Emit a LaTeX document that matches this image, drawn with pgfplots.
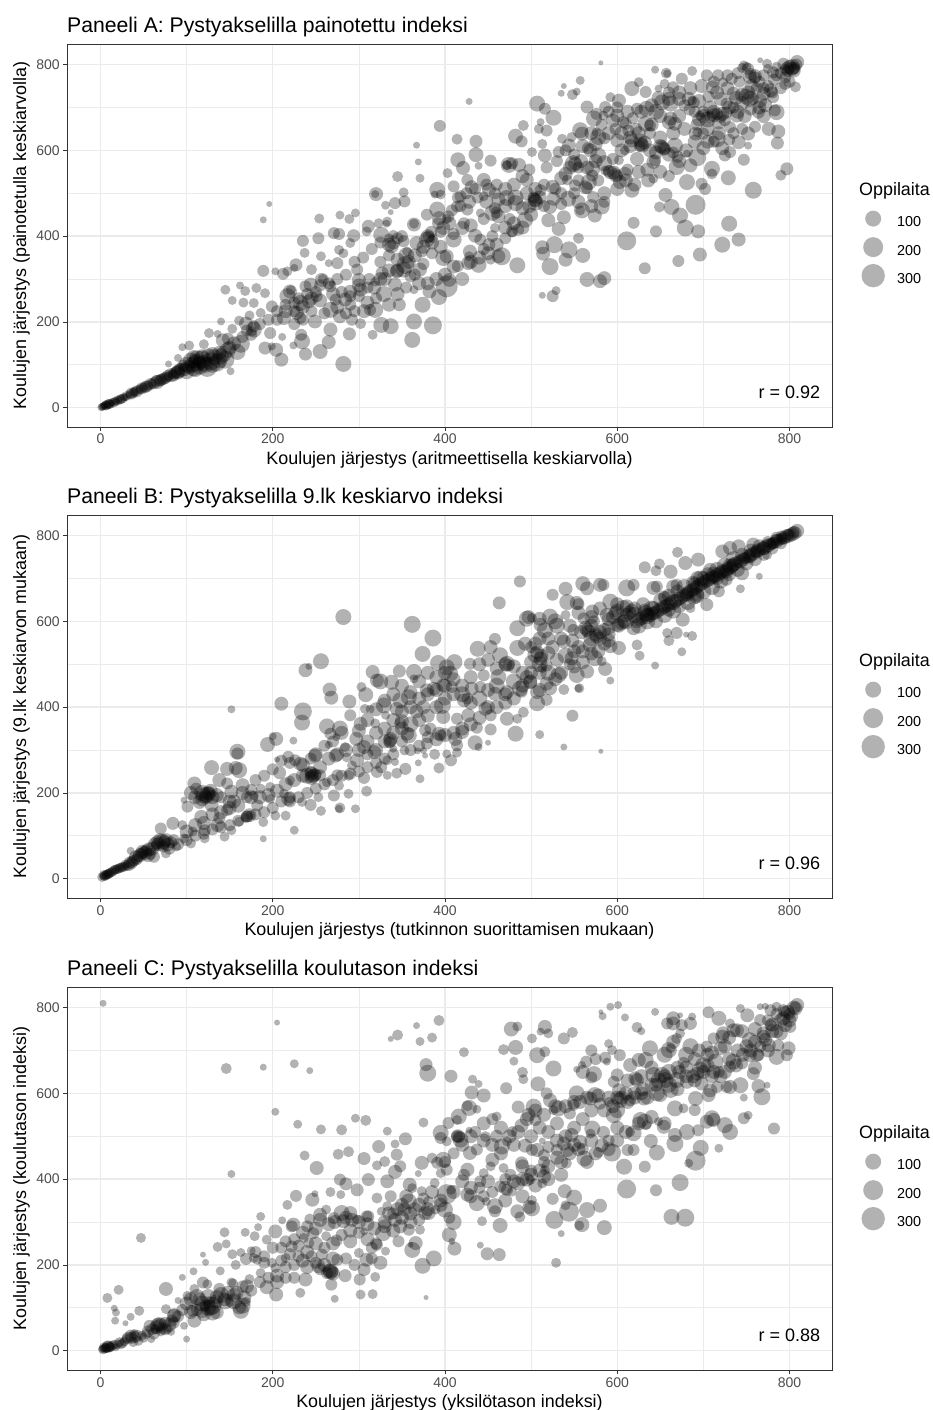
\documentclass[border=0pt]{standalone}
\usepackage{pgfplots}
\usepackage{pgfplotstable}
\usepackage{fontspec}
\setmainfont{Liberation Sans}
\pgfplotsset{compat=1.18}
\definecolor{gridg}{gray}{0.92}
\definecolor{axg}{gray}{0.2}
\definecolor{tickg}{gray}{0.3}
\pgfplotstableread[row sep=\\]{
x y r\\
2 2 4\\4 4 4\\6 5 5\\8 6 4\\10 8 5\\12 10 4\\15 12 5\\18 15 4\\21 18 4\\24 20 5\\27 24 4\\30 27 5\\33 30 4\\36 33 6\\39 37 5\\42 38 6\\45 42 5\\48 45 6\\52 48 6\\55 51 5\\58 55 6\\62 57 6\\66 60 7\\69 63 6\\72 66 6\\76 70 6\\79 73 5\\83 78 5\\86 80 6\\88 83 6\\3 3 4\\5 6 4\\9 9 5\\14 13 4\\20 17 5\\29 25 4\\38 34 5\\50 47 5\\60 56 5\\70 65 6\\
78 74 6\\74 68 6\\65 62 6\\54 50 6\\47 44 5\\41 38 5\\35 32 5\\26 22 5\\23 19 5\\17 14 5\\11 9 5\\7 6 5\\1 1 4\\82 76 7\\90 82 7\\85 75 6\\
100 100 8\\105 110 8\\108 118 7\\112 105 9\\115 98 9\\118 112 9\\120 104 8\\124 95 10\\128 108 9\\132 118 8\\135 105 9\\140 120 8\\145 112 9\\100 85 8\\108 92 8\\95 141 4\\103 145 5\\90 116 4\\79 102 3.5\\151 85 4\\120 148 5\\126 174 5\\140 201 4\\136 172 4\\142 157 7\\153 184 5\\159 130 8\\163 149 9\\148 161 6\\161 203 5\\173 215 5\\169 196 7\\
170 180 6\\165 165 6\\155 150 7\\150 140 7\\148 135 8\\143 125 8\\138 128 7\\130 125 7\\125 122 7\\118 120 7\\112 115 8\\107 100 8\\103 95 7\\98 90 7\\94 88 7\\90 84 7\\92 90 6\\96 98 6\\110 90 8\\122 100 8\\130 100 8\\138 110 8\\110 108 7\\115 105 7\\
145 275 5\\162 285 4\\168 272 5\\153 250 4.5\\166 245 5\\
394 657 6\\414 626 5.5\\436 621 6.5\\436 590 7.5\\453 576 6\\439 564 4\\415 578 7.5\\421 559 7\\367 612 3.5\\369 573 3.5\\371 535 4.5\\345 539 5.5\\428 714 3.5\\491 658 5.5\\482 633 7.5\\489 621 6\\474 566 8\\472 566 5\\478 570 6\\486 566 7\\
403 547 5\\410 516 6\\391 508 8\\388 497 4\\395 497 5\\426 531 6\\431 514 7\\445 531 7\\451 508 7\\460 520 6\\418 493 6\\414 469 6\\426 462 6\\445 493 5\\441 454 4.5\\462 485 7\\472 489 8\\482 477 8\\495 531 7\\478 411 6\\478 409 5\\458 419 5\\462 446 7\\455 454 8\\493 438 8\\
320 498 7\\319 498 4\\352 502 5\\353 481 6\\342 477 6\\331 472 4.5\\337 456 3\\296 454 4.5\\278 449 4.5\\289 440 5\\254 441 5\\196 475 3\\189 438 3.5\\271 407 6\\277 405 6\\253 395 6\\235 389 6\\237 361 5\\256 353 5\\189 319 6\\203 318 4\\212 312 6\\217 318 5\\227 333 6.5\\225 326 4\\245 322 5.5\\265 337 4\\275 337 6\\277 368 5\\282 360 5\\290 384 5\\294 401 6.5\\311 423 6.5\\309 411 5\\323 430 5\\333 434 5\\332 429 4\\326 403 8\\335 380 7\\338 376 7\\340 403 5\\352 388 6\\364 427 7\\364 429 5\\379 450 6\\391 462 8\\393 442 7\\404 446 6\\398 419 7\\379 392 8\\381 399 6\\373 364 6\\367 384 7\\356 364 5\\410 392 8\\420 419 7\\422 430 6\\435 401 7\\441 392 6\\451 380 6.5\\429 364 7\\428 353 5\\439 333 8\\453 345 5\\462 353 7\\466 353 9\\484 332 8\\402 353 7\\398 349 8\\410 329 7\\427 337 7\\
354 333 9\\352 322 8\\344 318 7\\360 306 6\\371 322 7\\342 287 7\\327 314 6.5\\319 294 5\\329 265 8\\364 275 4.5\\382 271 7\\402 283 11\\405 298 7\\393 258 8\\374 240 8\\347 240 6.5\\364 201 8\\386 192 9\\362 158 8\\337 190 8\\326 193 8\\316 170 5\\319 228 8\\313 228 6\\306 225 7\\292 205 6\\302 196 5.5\\289 172 6.5\\267 182 7\\265 153 7\\255 131 7.5\\282 102 8\\238 125 6.5\\234 155 8\\233 170 6\\224 145 4\\211 165 4\\191 139 6.5\\204 135 7\\199 143 4\\210 112 7\\197 174 6\\178 182 8\\
298 322 6\\300 298 7\\302 275 7\\284 252 7\\273 252 6\\267 283 6\\257 298 7\\258 300 5\\244 287 7\\238 283 6\\269 289 3.5\\220 271 7\\217 260 8\\221 274 5\\199 236 6\\186 221 5\\176 178 5\\178 190 6\\181 279 5\\191 267 5\\178 244 5\\242 248 7\\232 244 8\\228 221 7\\213 209 7\\232 209 6\\251 260 6\\267 228 8\\278 213 7\\249 201 7\\
380 400 7\\384 410 6\\386 395 5\\392 430 6\\402 440 5\\408 460 6\\415 490 6\\425 500 6\\435 510 6\\448 520 6\\458 500 6\\470 510 7\\480 520 7\\490 540 7\\498 555 6\\472 565 5\\340 385 7\\345 395 6\\350 400 6\\335 395 5\\325 385 6\\315 370 6\\305 350 6\\295 340 6\\285 310 6\\275 300 6\\265 290 6\\255 285 6\\250 270 6\\240 265 6\\230 255 6\\225 245 6\\215 240 6\\205 225 6\\330 300 7\\345 345 7\\358 340 7\\365 310 6\\375 335 6\\385 360 6\\395 375 7\\410 405 6\\430 425 7\\445 440 6\\460 455 6\\475 440 6\\490 465 7\\445 370 6\\455 400 6\\470 395 6\\485 415 6\\325 340 6\\335 355 6\\312 300 6\\300 260 6\\290 240 6\\275 235 7\\260 220 6\\245 225 6\\235 205 6\\225 195 6\\290 260 6\\
581 804 2.5\\557 763 4.5\\538 750 3\\535 733 3.5\\548 730 5.5\\553 737 4\\644 788 4\\657 780 5.5\\658 779 4\\687 785 5\\675 767 6\\665 747 6\\648 744 4\\625 759 5\\617 744 7.5\\633 736 6\\704 775 6\\717 775 6\\733 767 6\\723 759 5\\711 747 7\\747 798 5\\752 790 6\\760 773 7\\754 771 7\\774 802 5\\766 810 3\\793 802 6\\803 794 8\\809 806 7\\797 790 7\\805 786 7\\781 782 6\\807 748 5.5\\795 755 6\\778 740 7\\770 732 7\\754 720 8\\766 716 7\\781 724 6\\785 689 8\\783 693 6\\764 689 6.5\\776 650 7\\787 644 7\\786 617 6.5\\
735 732 7\\727 709 6\\716 685 6\\708 678 6\\696 681 5\\720 678 6\\739 681 7\\731 654 6\\716 627 8.5\\691 639 7\\693 642 5\\700 639 6\\752 639 7\\741 619 7\\752 611 4\\731 596 6\\725 588 6\\747 578 6\\693 584 9\\681 592 4\\710 557 8\\710 545 5.5\\729 536 7.5\\702 510 6\\698 522 6\\681 526 8\\758 507 8.5\\797 557 6.5\\790 542 5.5\\
691 473 10\\656 496 7\\649 468 5.5\\663 468 8\\673 448 8\\679 419 8.5\\694 411 7\\730 429 8\\741 392 7\\722 380 8\\696 357 7\\671 342 6\\632 325 6\\619 431 6\\645 411 6\\611 389 9.5\\565 299 7.5\\580 295 7\\585 302 7\\522 329 8.5\\514 359 7\\513 374 7\\527 380 8.5\\544 368 8.5\\540 345 7\\560 355 7.5\\555 395 5.5\\532 417 7\\513 262 3.5\\525 260 6\\529 273 4.5\\
520 437 7\\538 444 7\\522 468 7\\526 487 7\\543 487 8\\559 460 8\\557 460 5\\574 448 7\\582 469 8\\572 491 6\\563 514 7\\551 518 6\\567 526 8\\571 541 6\\542 531 5.5\\505 483 7\\504 485 7\\503 490 6\\511 507 6\\592 549 7\\598 542 7\\609 545 7\\617 507 7.5\\603 526 7\\586 553 5\\602 577 5\\623 580 7\\629 611 7\\627 623 7\\642 573 7\\636 530 7\\642 534 5\\654 604 7\\652 608 7\\669 561 8\\667 611 8\\644 577 6\\617 623 7\\600 623 7\\613 646 6\\609 600 5\\
592 724 5\\602 716 7\\586 701 6\\565 701 6.5\\573 674 8\\584 681 5\\600 681 7\\607 666 6\\623 697 6\\634 697 8\\633 662 8\\638 658 6\\652 712 8\\662 709 8\\662 674 7\\667 662 7\\683 720 7\\689 712 6\\687 716 5\\578 631 8\\576 642 5\\559 639 7\\557 647 8\\547 631 5\\544 611 7\\536 627 5\\532 596 6\\516 588 7\\549 569 8.5\\551 569 7\\569 600 7\\578 588 8\\571 557 8\\526 676 8\\516 697 6\\507 709 8\\511 666 4\\518 646 6\\509 650 5\\513 615 5\\501 596 5\\
803 790 7\\800 795 7\\806 792 6\\798 785 6\\795 790 5\\790 780 6\\808 800 6\\785 775 6\\770 745 6\\775 750 6\\780 735 6\\760 770 6\\755 778 6\\765 760 6\\750 795 5\\745 792 5\\740 780 6\\775 790 5\\785 795 5\\728 745 7\\716 735 7\\708 700 7\\700 690 6\\712 682 7\\722 685 7\\727 688 6\\735 700 6\\745 710 7\\752 735 7\\690 690 6\\678 705 6\\672 720 7\\660 735 6\\655 755 5\\648 722 7\\640 705 7\\628 690 7\\618 675 6\\610 662 6\\598 650 6\\590 640 7\\585 628 6\\575 615 7\\566 605 6\\558 575 7\\550 590 6\\540 600 6\\530 575 6\\518 560 6\\628 615 7\\632 618 7\\626 610 6\\650 610 7\\655 603 6\\660 590 7\\670 585 6\\680 600 7\\672 575 7\\685 565 7\\700 605 7\\712 620 6\\722 605 7\\735 640 6\\725 670 6\\705 650 7\\692 660 6\\678 650 7\\665 640 7\\650 630 7\\638 640 6\\622 650 6\\612 690 7\\600 700 6\\590 690 6\\576 685 6\\596 548 7\\590 552 6\\600 540 6\\612 555 6\\578 530 6\\565 512 6\\550 500 6\\535 475 6\\505 478 8\\510 490 7\\498 470 7\\515 470 6\\528 510 6\\540 545 7\\555 530 6\\585 500 7\\
700 680 7\\705 672 8\\712 690 7\\718 665 7\\695 672 7\\740 690 7\\748 680 7\\755 695 6\\765 700 7\\772 705 7\\758 720 6\\745 730 7\\738 722 7\\750 725 8\\762 745 6\\790 745 6\\800 760 6\\770 775 6\\782 765 6\\795 770 6\\756 750 7\\742 760 6\\728 775 6\\712 760 6\\698 750 7\\685 745 7\\672 735 7\\660 720 7\\645 690 8\\650 680 7\\660 665 7\\672 680 7\\684 695 6\\695 715 7\\706 725 6\\720 720 7\\730 700 7\\640 660 7\\625 640 7\\615 610 7\\605 600 7\\595 580 6\\585 570 8\\575 575 7\\565 560 7\\555 560 6\\545 560 7\\535 535 7\\525 515 7\\515 520 6\\505 510 7\\495 500 7\\482 490 8\\470 470 7\\458 465 6\\448 480 7\\438 490 6\\428 480 7\\418 470 6\\405 430 7\\395 410 6\\385 385 7\\375 375 7\\365 355 7\\355 355 8\\345 320 7\\335 320 7\\325 300 7\\318 280 7\\310 280 6\\300 285 7\\290 270 7\\280 270 6\\270 265 7\\255 250 7\\245 255 7\\235 235 7\\225 225 6\\215 225 7\\205 205 6\\195 205 6\\185 195 6\\175 170 6\\
500 450 7\\490 420 7\\480 430 7\\470 420 7\\460 380 7\\450 360 7\\440 350 7\\430 340 7\\420 300 7\\415 330 6\\400 310 7\\390 300 7\\380 290 7\\370 290 7\\355 280 6\\345 265 7\\335 240 7\\320 255 6\\310 245 7\\295 225 6\\285 220 6\\560 610 7\\570 640 7\\582 660 6\\595 670 7\\605 640 7\\615 630 7\\638 600 7\\645 595 7\\665 595 6\\690 620 7\\705 620 7\\718 640 7\\730 625 6\\745 650 6\\760 655 6\\770 680 7\\620 520 7\\610 530 7\\625 550 7\\635 555 7\\650 550 7\\660 540 6\\570 470 7\\585 480 6\\600 510 7\\555 480 7\\535 500 6\\
}\tableA
\pgfplotstableread[row sep=\\]{
x y r\\
4 9 5\\10 12 5\\16 20 5\\22 24 5\\28 28 5\\33 32 6\\39 43 6\\49 63 7\\55 55 7\\62 51 6\\72 86 8\\76 90 7\\70 117 6\\84 129 6.5\\35 65 4\\64 78 5\\76 59 5\\88 75 5\\97 94 5\\105 82 5\\95 125 5\\107 110 5\\121 113 6\\121 94 5\\136 125 7\\144 98 5\\152 113 5\\161 133 5\\173 148 7\\170 145 6\\168 142 5\\3 5 4\\6 8 5\\8 10 5\\13 15 5\\19 22 5\\25 26 5\\31 30 5\\36 36 6\\42 45 6\\46 55 7\\52 60 7\\58 58 6\\67 80 7\\74 85 7\\
2 4 5\\5 6 5\\7 9 5\\9 11 5\\11 14 5\\14 17 5\\17 21 5\\20 23 5\\23 26 5\\26 28 5\\29 33 5\\34 38 6\\37 40 6\\41 50 7\\44 52 6\\47 58 6\\50 62 6\\53 66 6\\56 68 7\\60 70 7\\63 80 7\\66 85 7\\69 90 7\\73 75 6\\78 80 7\\82 85 6\\85 90 6\\
124 195 8\\122 190 7\\126 198 7\\109 222 7\\111 210 6\\101 168 6\\97 183 3.5\\115 179 7\\129 172 7\\138 230 7\\129 259 7.5\\147 256 7\\159 296 8\\159 292 6\\161 253 8\\157 258 7\\147 222 6\\165 218 7\\152 203 7\\147 160 6\\117 144 7\\138 141 6\\175 207 6\\152 395 4\\
282 610 8\\487 693 6\\463 643 6.5\\362 593 8.5\\386 561 8.5\\374 524 8\\256 507 8\\238 486 7\\242 495 3.5\\210 408 7\\235 390 9\\234 364 8\\266 441 7\\268 422 7\\289 413 7\\303 447 5\\308 429 7.5\\316 482 7\\321 462 7\\325 460 8\\338 458 7.5\\347 484 6.5\\364 482 8\\364 466 4.5\\429 501 6\\411 505 8\\392 503 8\\402 493 8\\406 478 8\\438 536 8\\458 559 6\\453 540 7\\464 521 8\\472 501 8\\474 498 6\\484 538 8\\493 548 7\\505 548 7\\462 470 8\\445 474 6\\441 447 6\\458 431 7\\472 435 7\\487 443 8\\489 436 6\\507 435 7\\499 458 7\\511 513 7\\507 528 7\\518 497 6\\484 584 8\\495 606 8\\497 610 7\\510 606 7\\516 579 8\\
387 443 7\\379 439 7\\398 451 7\\408 447 6\\431 443 7\\422 416 7\\426 420 6\\397 404 8.5\\375 400 7\\367 390 7\\358 423 8\\348 416 8\\344 396 7\\329 404 8\\331 381 4.5\\350 367 7\\348 362 6\\358 334 8\\356 338 7\\337 326 7\\336 318 6\\377 346 6\\383 350 6\\393 338 7\\395 334 6\\398 377 7\\414 373 6\\427 381 7\\447 396 7\\453 381 6\\472 373 7\\484 373 5\\491 388 5.5\\482 338 8\\453 348 6\\437 352 6\\420 342 7\\412 326 7\\414 311 6\\435 317 7.5\\439 307 4\\450 317 3\\
379 315 6\\388 290 5.5\\402 291 4.5\\407 276 6\\414 294 5\\393 258 5.5\\371 233 4.5\\369 270 3.5\\377 287 3\\368 298 3.5\\375 299 3.5\\353 299 5\\354 256 6\\344 246 5.5\\333 241 4.5\\342 272 4\\326 260 6\\321 249 6\\333 276 5\\318 295 7\\306 235 6\\309 204 5.5\\340 303 4\\336 322 7\\306 307 7\\297 326 7\\284 307 5\\302 361 7\\290 381 6\\313 395 4.5\\319 362 5\\307 396 5\\278 350 8\\263 355 8\\274 330 4\\267 338 6\\265 312 4\\273 287 7\\286 283 5\\298 276 7\\292 264 5\\288 241 5.5\\275 241 6\\277 217 5\\288 198 5\\271 194 6\\
249 287 7\\244 280 6\\232 268 7\\226 276 6\\218 284 6\\205 278 3\\208 247 6.5\\220 229 5\\248 241 7\\246 239 7\\250 243 6\\255 241 6\\244 249 6\\263 225 5\\224 322 4\\204 326 7\\194 313 7.5\\200 332 4\\253 190 5\\244 172 6\\234 179 5\\218 186 7\\220 180 6\\213 198 5\\197 214 5\\278 165 5.5\\277 163 4\\296 163 4.5\\256 158 5\\225 113 4.5\\189 93 3.5\\189 132 5\\203 147 5\\215 147 5\\174 148 5\\182 171 6\\186 210 5\\178 194 5\\197 186 5\\
581 297 2.5\\538 307 3.5\\510 336 4.5\\548 380 6\\592 462 4\\644 497 4\\675 529 4.5\\626 520 5\\623 545 5.5\\687 566 5\\680 569 3\\660 555 5.5\\669 573 6\\658 573 5\\676 604 7\\743 676 4.5\\765 705 3.5\\632 726 6\\645 718 5.5\\649 734 5.5\\670 761 5.5\\662 716 7\\679 736 7\\694 744 7\\722 763 7\\731 771 7\\741 775 7\\758 779 7\\
525 662 6\\540 676 7\\560 688 7.5\\565 677 7\\580 685 7\\584 685 6\\611 678 8.5\\619 685 6\\592 646 8\\542 645 8\\553 643 7\\555 640 6\\522 611 8\\528 600 8\\511 592 7\\501 608 5\\540 615 5\\571 623 7\\561 607 6\\573 600 6\\
549 580 6\\565 580 7\\567 576 7\\576 565 7\\588 615 7\\607 631 8\\611 635 7\\600 592 7\\619 584 7\\633 619 8\\635 615 7\\642 678 7\\646 681 6\\656 654 7\\654 658 6\\665 681 7\\669 685 6\\660 627 7\\642 631 7\\689 658 8\\693 662 7\\681 662 7\\704 639 6.5\\685 631 5\\718 670 6\\700 701 7\\712 709 8\\716 701 7\\708 720 7\\731 728 8\\735 732 7\\727 716 7\\745 712 7\\727 697 6\\693 701 7\\689 689 6\\754 751 7\\762 763 7\\770 771 7\\778 779 6\\785 790 6\\791 798 6\\799 802 6\\805 808 6\\809 811 7\\793 794 6\\781 782 6\\774 755 5\\747 747 6\\
602 538 7\\592 542 7\\586 489 7\\582 507 5\\574 514 8\\565 483 7\\553 475 8\\555 444 4\\556 444 5\\538 441 5.5\\532 475 8\\522 444 7\\518 417 6\\507 409 8\\547 514 7\\538 553 7\\520 526 7\\505 522 8\\513 491 5\\499 460 7\\
806 806 7\\803 803 7\\800 800 7\\797 799 7\\794 795 7\\791 792 6\\788 790 6\\785 787 7\\782 783 6\\779 781 6\\776 778 7\\773 775 7\\770 770 7\\767 768 6\\764 766 7\\761 762 6\\758 758 7\\755 755 7\\752 752 7\\749 748 6\\746 744 7\\743 740 7\\740 738 6\\737 735 7\\734 730 7\\731 725 7\\728 722 7\\725 718 7\\722 716 7\\719 712 7\\716 708 7\\713 704 7\\710 702 7\\707 698 7\\704 695 7\\701 692 7\\698 688 7\\695 684 7\\692 680 7\\689 675 7\\686 672 7\\683 668 7\\680 664 7\\677 660 7\\674 655 7\\671 652 7\\668 648 7\\665 645 8\\662 642 7\\659 638 7\\656 635 7\\653 632 7\\650 628 7\\647 624 7\\644 620 7\\641 618 7\\638 615 7\\635 612 8\\632 625 7\\629 608 7\\626 605 7\\623 600 7\\620 630 7\\617 625 7\\614 620 7\\611 615 7\\608 600 7\\605 596 7\\602 590 7\\598 620 7\\595 610 7\\590 585 7\\585 580 7\\580 575 7\\575 570 7\\570 590 7\\563 585 7\\558 575 7\\
590 555 7\\585 548 7\\578 530 7\\570 525 7\\560 505 7\\550 495 7\\545 500 6\\535 480 7\\528 465 7\\518 455 7\\510 440 7\\512 520 7\\525 540 7\\535 560 7\\548 555 7\\555 540 7\\568 545 7\\510 560 7\\500 540 6\\495 470 7\\480 420 7\\470 410 7\\460 400 7\\450 400 7\\440 375 7\\430 360 7\\420 350 7\\410 340 7\\400 335 7\\390 325 7\\380 330 6\\370 310 6\\360 300 6\\350 320 6\\340 290 6\\330 280 6\\320 270 6\\310 260 6\\300 250 6\\290 245 6\\280 240 6\\270 230 6\\260 220 6\\250 210 6\\240 200 6\\230 190 6\\220 190 6\\210 180 6\\200 165 6\\190 155 6\\180 150 6\\170 145 6\\160 135 6\\150 125 6\\140 120 6\\130 115 6\\120 105 6\\110 100 6\\100 90 6\\90 80 6\\80 70 6\\
110 190 7\\118 200 8\\128 205 7\\135 195 7\\105 200 7\\140 190 6\\150 180 7\\160 170 7\\170 190 6\\180 230 6\\190 240 6\\200 255 6\\210 275 6\\220 270 6\\235 265 7\\250 290 7\\260 310 6\\270 320 6\\280 340 7\\300 345 7\\310 370 7\\320 395 7\\330 415 7\\340 430 7\\350 450 7\\360 435 7\\370 460 7\\380 480 7\\390 470 7\\400 480 7\\410 465 7\\420 450 7\\430 470 7\\440 500 7\\450 510 7\\460 490 7\\470 500 7\\480 495 7\\490 480 7\\500 505 7\\510 480 7\\
600 640 7\\610 600 8\\620 615 8\\625 590 8\\630 640 7\\635 600 8\\640 630 8\\645 600 7\\650 650 7\\655 615 8\\660 660 7\\665 625 8\\670 670 7\\672 635 7\\678 680 8\\682 645 8\\688 690 7\\692 660 8\\697 700 8\\700 670 8\\705 710 7\\710 680 8\\716 720 8\\720 695 8\\725 730 8\\730 710 7\\735 745 8\\740 720 7\\745 755 7\\750 735 7\\755 765 7\\760 745 7\\765 775 7\\770 755 6\\775 785 6\\780 770 6\\785 795 6\\790 782 6\\
440 420 8\\450 440 7\\460 450 8\\470 430 7\\480 460 8\\490 450 7\\500 480 7\\510 500 8\\520 480 8\\530 510 7\\540 520 8\\550 530 7\\560 530 7\\570 560 8\\580 560 7\\590 570 7\\520 560 7\\530 590 8\\545 590 7\\555 620 7\\570 610 7\\580 630 7\\590 605 7\\600 625 7\\300 300 7\\310 290 6\\320 300 7\\330 320 7\\340 340 7\\350 350 7\\360 360 8\\370 370 7\\380 380 7\\390 400 7\\400 420 7\\410 430 7\\420 430 8\\430 410 7\\340 370 7\\350 390 7\\360 400 7\\370 420 7\\380 430 7\\390 440 7\\400 450 7\\330 350 7\\320 340 7\\310 320 7\\100 110 7\\110 125 7\\120 130 7\\130 150 7\\140 155 7\\150 165 7\\155 180 7\\165 200 7\\175 190 7\\185 190 7\\195 195 7\\205 205 7\\215 220 7\\225 230 7\\235 240 7\\245 235 7\\255 260 7\\265 280 7\\275 290 7\\285 300 7\\240 240 8\\245 245 7\\120 195 8\\125 200 7\\118 185 7\\130 190 7\\
}\tableB
\pgfplotstableread[row sep=\\]{
x y r\\
3 810 3.5\\146 658 5.5\\47 263 5\\21 142 5\\8 123 5\\16 99 3.5\\18 89 4\\17 70 4\\29 64 3\\35 79 4\\45 93 5\\100 27 3.5\\76 144 7\\90 117 3.5\\95 171 3.5\\108 185 4\\119 224 3\\122 206 3.5\\136 242 5\\139 186 4.5\\146 249 4.5\\144 276 5\\152 412 4\\
2 4 4\\9 10 6\\8 9 6\\4 8 5\\12 8 5\\18 8 4\\26 18 5\\35 35 6\\39 39 5\\44 23 5\\53 39 5\\59 27 4\\57 58 6\\68 62 7\\66 60 7\\64 50 5\\78 50 5\\86 83 7\\85 81 7\\82 44 4\\97 58 4\\76 97 5\\109 70 7\\107 93 6\\109 144 5\\115 120 7\\119 159 6\\124 155 5\\130 105 9\\130 89 8\\126 113 6\\122 105 6\\138 144 6\\152 159 5\\154 157 5\\144 120 7\\150 113 5\\161 101 7\\163 93 8\\167 124 7\\169 114 5\\101 128 5\\
5 5 5\\6 6 5\\10 8 5\\11 10 5\\14 12 5\\20 15 5\\22 20 5\\28 22 5\\32 30 6\\36 30 6\\40 32 6\\42 35 6\\48 35 5\\55 45 6\\60 50 6\\65 55 7\\70 60 7\\72 52 6\\75 65 6\\80 60 7\\83 70 6\\90 80 6\\100 110 7\\105 120 7\\112 125 8\\118 110 8\\125 125 8\\128 100 8\\134 115 7\\140 130 8\\148 135 7\\155 115 8\\158 135 7\\170 150 7\\165 105 8\\120 85 7\\112 95 6\\135 90 7\\
153 225 5\\163 229 4.5\\175 233 4.5\\169 214 6\\157 200 5\\173 167 5\\168 276 4.5\\
205 765 3\\189 661 3.5\\225 669 4.5\\243 653 3.5\\203 557 4\\229 528 4.5\\256 516 5\\280 515 5.5\\296 542 4.5\\308 537 5.5\\333 512 4.5\\237 455 5\\276 458 5.5\\288 464 5.5\\251 426 7\\306 448 6.5\\323 476 6.5\\342 482 4.5\\354 494 6.5\\344 457 6\\330 441 5.5\\321 432 5\\348 430 6\\342 417 7\\311 399 6.5\\278 399 6\\285 389 6.5\\298 375 6.5\\267 370 5\\249 366 3.5\\246 352 7\\227 361 6\\217 340 5\\279 364 4.5\\186 313 4.5\\211 304 4\\183 288 4\\179 267 5\\
393 770 5.5\\367 758 3.5\\345 736 5.5\\337 727 3\\371 721 4.5\\385 730 5\\422 696 5\\468 702 5.5\\482 707 7.5\\477 750 7.5\\484 756 5\\480 675 4.5\\490 649 5.5\\491 633 5\\471 612 6\\378 667 6.5\\380 647 8.5\\407 640 6.5\\432 633 4.5\\439 622 4\\431 602 7\\445 595 7\\426 571 5.5\\437 563 4.5\\428 566 8\\416 546 8\\414 538 5\\460 546 5\\375 532 5\\485 568 6.5\\497 550 7\\489 525 7\\
395 508 8\\404 531 6\\395 496 6\\402 488 5\\415 500 7\\414 500 6\\416 499 6\\418 492 8\\428 514 3.5\\447 499 5.5\\460 500 6.5\\478 511 5.5\\466 476 8\\472 488 5\\437 469 6\\429 461 7\\493 478 7\\373 438 7\\398 445 8\\385 449 5.5\\391 438 6\\402 422 6\\369 413 3.5\\388 391 5\\395 414 5\\422 410 6\\426 422 7\\455 445 7\\453 430 5\\445 414 5\\441 395 6\\468 426 5\\476 410 6\\464 383 6\\472 375 6\\478 371 5\\489 438 6.5\\495 399 7\\
359 387 7\\362 379 5\\373 372 5\\381 348 5.5\\402 365 10\\407 375 5\\426 364 7\\437 344 8\\448 348 4.5\\458 337 8\\458 325 6\\484 325 7\\498 335 7\\487 312 5.5\\464 292 7.5\\443 302 5\\400 329 8\\410 300 8\\405 270 7.5\\408 255 3.5\\411 238 7\\441 246 3.5\\449 226 6.5\\463 224 6.5\\
358 348 8\\353 329 7\\381 321 7\\377 321 7\\389 329 5\\342 305 7\\348 290 7\\358 282 6\\371 282 5\\346 255 6\\362 235 8\\360 247 3\\366 251 7\\387 215 8\\374 198 8\\333 395 7\\337 360 6\\321 356 5.5\\333 337 5\\326 325 4.5\\311 313 6\\309 313 6\\298 306 5\\290 321 7\\280 321 8\\282 302 7\\271 309 6\\262 329 5\\255 317 7\\243 307 5.5\\247 274 6\\224 294 7\\222 290 6\\203 278 7\\193 259 5\\222 243 6\\215 216 5\\230 220 6\\242 251 5.5\\236 263 5\\262 267 5\\274 257 6\\290 255 7\\306 278 4\\328 274 8\\321 247 6\\331 232 4.5\\315 240 6\\300 228 5\\309 212 7\\306 189 6.5\\319 172 5\\301 166 6\\284 175 6.5\\275 212 6\\267 185 8\\266 186 7\\268 184 7\\263 181 6\\253 197 7\\257 224 6\\238 166 7\\268 154 6\\232 135 5\\215 170 6\\199 205 5\\203 193 5\\186 181 5\\193 148 7\\204 131 7\\302 131 5\\316 132 5\\272 121 4\\378 124 2.5\\178 216 5\\182 212 5\\
190 220 6\\200 240 6\\210 240 6\\215 255 6\\225 260 6\\235 275 7\\240 290 6\\250 285 7\\255 305 7\\265 295 7\\272 300 7\\285 310 7\\292 305 7\\300 300 7\\310 295 7\\318 285 7\\330 300 7\\340 280 7\\350 310 7\\360 300 7\\370 305 6\\380 330 7\\395 340 7\\405 310 6\\190 205 6\\180 230 6\\205 175 7\\225 170 6\\240 195 7\\255 190 6\\270 215 7\\285 215 6\\295 200 6\\315 215 6\\325 205 7\\
400 440 6\\410 460 6\\420 480 7\\430 500 7\\445 490 7\\455 480 7\\465 460 7\\480 480 7\\490 430 7\\500 500 7\\510 520 7\\520 510 7\\530 490 7\\540 500 7\\550 520 7\\560 540 7\\570 560 7\\585 560 7\\595 570 7\\605 590 7\\610 600 7\\620 600 7\\630 610 7\\640 620 7\\648 630 8\\660 620 8\\670 610 7\\680 640 7\\690 630 7\\700 650 7\\710 640 7\\720 640 7\\730 680 7\\740 700 7\\750 710 7\\760 720 7\\770 740 7\\780 760 7\\790 770 7\\798 790 7\\805 800 7\\800 785 6\\793 775 7\\785 745 7\\775 700 7\\760 660 7\\745 670 6\\725 710 7\\710 695 7\\690 680 7\\672 650 7\\430 360 7\\440 380 6\\450 395 7\\470 400 6\\485 390 7\\500 420 6\\515 440 6\\530 450 7\\550 480 7\\570 490 7\\590 490 6\\610 510 7\\625 530 7\\640 545 7\\655 530 7\\600 520 7\\560 470 6\\490 360 7\\470 350 7\\
592 802 4\\601 806 4\\581 790 2.5\\583 780 4\\609 777 4\\644 790 4\\623 754 5.5\\628 745 4\\516 755 7\\520 740 5\\511 744 4\\548 742 5.5\\538 728 6\\501 728 5\\507 689 8\\516 697 5.5\\526 658 8\\508 622 7.5\\590 716 4.5\\594 701 5\\603 689 6\\586 683 6\\588 674 4\\564 674 6\\559 666 4\\553 656 3.5\\573 645 8\\570 637 6\\600 643 6.5\\596 627 6\\615 666 7\\625 678 7\\633 678 8\\638 705 8\\660 701 8\\662 705 5\\665 763 7\\658 763 6\\675 759 6\\673 740 5\\685 763 6.5\\687 779 4\\673 782 3\\665 775 7\\669 728 5.5\\677 671 6\\685 710 8\\
706 789 6\\718 775 7.5\\731 763 5\\723 740 7\\722 732 7\\739 747 7\\743 798 4.5\\751 782 7\\766 802 3.5\\772 803 3.5\\766 771 6\\778 794 6\\785 802 5\\793 794 6\\809 806 7\\807 798 7\\803 779 6\\795 759 7\\801 755 6\\778 759 6\\770 732 7\\754 724 8\\766 709 6\\776 712 7\\787 712 6\\799 705 7\\785 685 8\\797 689 6\\754 689 7\\764 689 6\\735 747 7\\712 728 6\\704 709 6\\758 646 6.5\\774 619 3.5\\764 617 7\\768 592 8.5\\747 590 4\\743 619 8\\731 615 7\\727 615 6\\716 615 6\\735 674 8\\731 662 6\\718 650 6\\714 674 8\\700 666 8\\693 646 7\\698 623 7\\708 607 7\\706 596 7\\691 588 7.5\\681 627 7\\669 631 8\\
652 643 8\\642 643 8\\656 631 8\\623 631 7\\621 635 7\\602 607 7\\603 584 8\\600 561 8\\596 549 8\\574 596 8\\569 588 7\\553 600 8\\557 580 7\\545 553 6\\532 565 8\\522 584 7\\526 561 5\\518 600 6\\503 569 8\\505 538 6\\530 530 7\\549 573 6\\580 576 6\\590 580 5\\615 584 6\\631 588 7\\650 596 7\\646 600 8\\662 608 8\\667 565 8\\677 565 5\\690 561 6\\
632 534 8\\627 538 8\\634 526 5\\648 534 4.5\\654 522 7\\619 507 8\\615 510 5\\639 489 7\\667 503 7\\667 483 8.5\\681 510 8\\694 514 6\\704 534 7\\710 542 8\\712 538 7\\725 526 8\\731 510 8\\747 542 6\\752 549 4.5\\782 518 6\\571 518 8\\569 506 5\\584 509 6.5\\547 503 7\\557 487 7\\538 483 7\\542 468 7\\530 468 6\\520 475 6\\507 468 7\\501 468 6\\513 489 3.5\\515 456 6\\
582 479 7\\594 462 9\\578 462 5.5\\562 448 8\\541 437 5.5\\608 429 8\\612 468 6\\619 468 6\\632 429 6\\646 462 8\\697 473 8\\718 472 4.5\\691 443 10\\683 437 4.5\\673 392 8.5\\645 374 6\\611 377 9.5\\515 406 7\\513 390 5\\516 421 5\\499 398 5\\539 372 7\\550 357 8\\544 324 10\\540 339 5\\525 354 6\\565 328 8\\580 338 7\\527 305 9\\559 294 7.5\\556 292 5\\585 287 7.5\\535 273 3.5\\529 205 5\\663 312 8\\679 310 9\\501 351 5\\501 332 8\\
620 590 7\\628 600 7\\635 590 7\\612 580 7\\645 620 7\\655 640 7\\660 650 8\\670 660 7\\680 660 7\\688 640 7\\696 655 8\\705 665 7\\712 650 7\\725 650 7\\738 665 7\\746 690 7\\755 700 7\\762 690 7\\772 725 7\\780 745 7\\790 740 7\\800 770 7\\795 790 6\\785 785 6\\775 770 6\\760 750 7\\745 745 7\\730 730 7\\720 705 7\\705 690 7\\695 700 7\\680 690 8\\665 720 7\\655 690 8\\640 660 7\\628 640 7\\612 630 7\\600 590 7\\590 590 7\\578 595 7\\565 590 7\\550 580 7\\540 570 7\\528 570 7\\515 550 7\\505 560 7\\495 540 7\\485 510 7\\475 500 7\\465 520 7\\455 540 6\\445 530 7\\435 510 6\\500 410 7\\490 400 7\\480 395 7\\510 420 7\\520 430 7\\535 440 7\\545 460 7\\555 470 7\\565 440 7\\575 460 7\\590 470 7\\600 490 7\\505 385 7\\520 400 7\\535 410 7\\470 380 7\\455 370 6\\445 360 6\\430 380 7\\420 395 7\\410 370 7\\395 350 7\\385 370 7\\375 355 6\\365 330 7\\355 360 7\\345 330 7\\335 320 7\\
260 200 7\\270 180 7\\250 205 6\\245 220 6\\235 210 7\\225 200 6\\215 195 6\\205 160 7\\195 170 6\\185 160 6\\175 140 6\\165 150 6\\155 130 7\\145 115 8\\135 125 7\\125 100 8\\118 95 8\\105 90 7\\95 95 6\\85 65 6\\75 50 6\\70 45 5\\62 40 6\\50 30 5\\38 20 5\\30 28 5\\24 15 5\\16 14 5\\7 7 5\\3 3 5\\290 280 7\\300 275 6\\310 260 7\\320 250 6\\330 290 7\\340 320 6\\350 340 7\\360 320 7\\370 340 7\\280 270 6\\270 250 7\\260 240 6\\250 250 7\\240 230 7\\230 245 6\\220 225 6\\210 210 6\\570 700 6\\560 650 7\\575 680 6\\
}\tableC
\pgfplotsset{
  panel/.style={
    scale only axis, width=765pt, height=383pt, clip=false,
    xmin=-38.9, xmax=849.4, ymin=-45, ymax=848,
    xtick={0,200,400,600,800}, ytick={0,200,400,600,800},
    minor xtick={100,300,500,700}, minor ytick={100,300,500,700},
    grid=both,
    major grid style={gridg, line width=1.4pt},
    minor grid style={gridg, line width=0.7pt},
    tick align=outside, tick pos=left,
    major tick length=3.7pt, minor tick length=0pt,
    tick style={axg, line width=0.7pt},
    axis line style={axg, line width=0.9pt},
    tick label style={font=\fontsize{14}{15}\selectfont, text=tickg},
    /pgf/number format/assume math mode=true,
    /pgf/number format/1000 sep={},
    label style={font=\fontsize{17.9}{20}\selectfont, text=black},
    xlabel style={at={(axis description cs:0.5,0)}, anchor=north, yshift=-24pt, inner sep=0pt},
    ylabel style={at={(axis description cs:0,0.5)}, anchor=south, rotate=0, yshift=37pt, inner sep=0pt},
    title style={at={(axis description cs:0,1)}, anchor=south west, font=\fontsize{21.2}{24}\selectfont, inner sep=0pt, yshift=1pt},
    legend style={draw=none, fill=none, inner sep=0pt, at={(rel axis cs:1.0353,0.5817)}, anchor=north west, row sep=0pt, font=\fontsize{14.4}{15}\selectfont},
    legend cell align=left,
  },
  bub/.style={forget plot, scatter, only marks, mark=*,
    scatter/use mapped color={draw=none, fill=black},
    mark options={fill opacity=0.3, draw opacity=0},
    visualization depends on={\thisrow{r} \as \myr},
    scatter/@pre marker code/.append style={/tikz/mark size=\myr pt}},
  li/.style={legend image code/.code={\path[draw=none, fill=none, use as bounding box] (-14pt,-10.25pt) rectangle (22pt,18.25pt); \path[draw=none, fill=black, fill opacity=0.3] (0pt,4pt) circle (#1);}},
}
\newcommand{\legimgs}{%
  \addlegendimage{li=8pt}\addlegendentry{100}
  \addlegendimage{li=10pt}\addlegendentry{200}
  \addlegendimage{li=11.7pt}\addlegendentry{300}
}
\newcommand{\legtitle}{\node[anchor=west, inner sep=0pt, font=\fontsize{17.9}{20}\selectfont] at (rel axis cs:1.0353,0.6162) {Oppilaita};}
\newcommand{\rnote}[1]{\node[anchor=east, inner sep=0pt, font=\fontsize{18}{20}\selectfont] at (axis cs:836,37) {#1};}
\begin{document}
\begin{tikzpicture}[x=1pt,y=1pt]
\useasboundingbox (0,0) rectangle (933,1410);
\begin{axis}[panel, at={(67pt,983pt)}, anchor=south west,
  title={Paneeli A: Pystyakselilla painotettu indeksi},
  xlabel={Koulujen järjestys (aritmeettisella keskiarvolla)},
  ylabel={Koulujen järjestys (painotetulla keskiarvolla)}]
\legimgs
\addplot[bub] table {\tableA};
\legtitle
\rnote{r = 0.92}
\end{axis}
\begin{axis}[panel, at={(67pt,512pt)}, anchor=south west,
  title={Paneeli B: Pystyakselilla 9.lk keskiarvo indeksi},
  xlabel={Koulujen järjestys (tutkinnon suorittamisen mukaan)},
  ylabel={Koulujen järjestys (9.lk keskiarvon mukaan)}]
\legimgs
\addplot[bub] table {\tableB};
\legtitle
\rnote{r = 0.96}
\end{axis}
\begin{axis}[panel, at={(67pt,40pt)}, anchor=south west,
  title={Paneeli C: Pystyakselilla koulutason indeksi},
  xlabel={Koulujen järjestys (yksilötason indeksi)},
  ylabel={Koulujen järjestys (koulutason indeksi)}]
\legimgs
\addplot[bub] table {\tableC};
\legtitle
\rnote{r = 0.88}
\end{axis}
\end{tikzpicture}
\end{document}
